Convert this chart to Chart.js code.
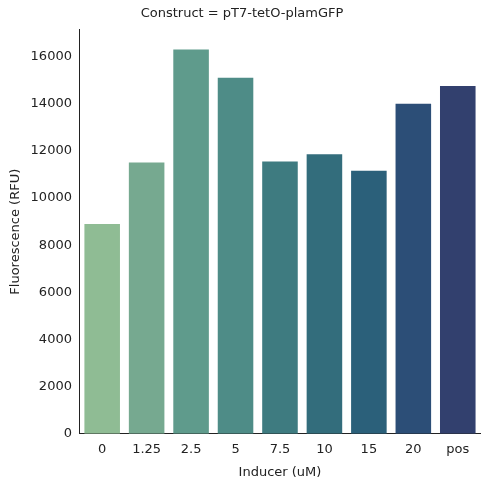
<!DOCTYPE html>
<html><head><meta charset="utf-8">
<script src="https://cdn.jsdelivr.net/npm/chart.js@4"></script>
<style>html,body{margin:0;background:#fff}#wrap{width:490px;height:490px}</style>
</head><body><div id="wrap"><canvas id="c"></canvas></div>
<script>
const inducers = ["0","1.25","2.5","5","7.5","10","15","20","pos"];
const fluorescence = [8900, 11500, 16300, 15100, 11550, 11850, 11150, 14000, 14750];
const barColors = ["#8fbc94","#76a990","#5f9b8c","#4e8c87","#3e7b80","#336d7c","#2b607a","#2c4e77","#32406e"];

Chart.defaults.font.family = "DejaVu Sans";
Chart.defaults.font.size = 13;
Chart.defaults.color = "#222";

new Chart(document.getElementById("c"), {
  type: "bar",
  data: { labels: inducers, datasets: [{ data: fluorescence, backgroundColor: barColors, barPercentage: 0.8, categoryPercentage: 1 }] },
  options: {
    responsive: true, maintainAspectRatio: false, animation: false,
    layout: { padding: { left: 4, right: 10, top: 4, bottom: 6 } },
    plugins: {
      legend: { display: false },
      tooltip: { enabled: false },
      title: { display: true, text: "Construct = pT7-tetO-plamGFP", font: { size: 13, weight: "normal" }, color: "#222", padding: { top: 2, bottom: 8 } }
    },
    scales: {
      x: {
        grid: { display: false, drawTicks: true, tickLength: 5, color: "#222" },
        border: { color: "#222" },
        ticks: { color: "#222" },
        title: { display: true, text: "Inducer (uM)", color: "#222", font: { size: 13 } }
      },
      y: {
        min: 0, max: 17140,
        grid: { display: false, drawTicks: true, tickLength: 5, color: "#222" },
        border: { color: "#222" },
        afterBuildTicks: a => { a.ticks = [0,2000,4000,6000,8000,10000,12000,14000,16000].map(v => ({ value: v })); },
        ticks: { color: "#222", callback: v => String(v) },
        title: { display: true, text: "Fluorescence (RFU)", color: "#222", font: { size: 13 } }
      }
    }
  }
});
</script></body></html>
